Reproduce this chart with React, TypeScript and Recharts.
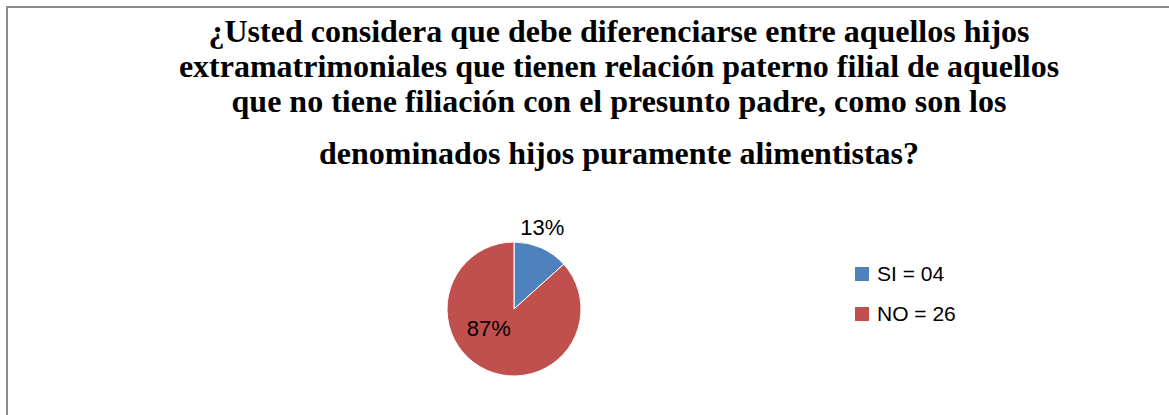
import React from 'react';
import { PieChart, Pie, Cell, Legend } from 'recharts';

const categories = ['SI = 04', 'NO = 26'];
const counts = [4, 26];
const colors = ['#4F81BD', '#C0504D'];
const titleLines = [
  '¿Usted considera que debe diferenciarse entre aquellos hijos',
  'extramatrimoniales que tienen relación paterno filial de aquellos',
  'que no tiene filiación con el presunto padre, como son los',
  'denominados hijos puramente alimentistas?',
];

const data = categories.map((name, i) => ({ name, value: counts[i] }));
const RAD = Math.PI / 180;

const renderLabel = (props: any) => {
  const { cx, cy, midAngle, outerRadius, percent } = props;
  const text = `${Math.round(percent * 100)}%`;
  let x: number;
  let y: number;
  if (percent < 0.5) {
    const r = outerRadius + 22;
    x = cx + r * Math.cos(-midAngle * RAD) - 8;
    y = cy + r * Math.sin(-midAngle * RAD);
  } else {
    const r = outerRadius * 0.45;
    x = cx + r * Math.cos(-midAngle * RAD) - 13;
    y = cy + r * Math.sin(-midAngle * RAD) - 8;
  }
  return (
    <text x={x} y={y} textAnchor="middle" dominantBaseline="central"
      fontFamily="'Liberation Sans', Arial, sans-serif" fontSize={22} fill="#000">
      {text}
    </text>
  );
};

const renderLegend = () => (
  <div style={{ fontFamily: "'Liberation Sans', Arial, sans-serif", fontSize: 21, color: '#000' }}>
    {data.map((d, i) => (
      <div key={d.name} style={{ display: 'flex', alignItems: 'center', height: 40 }}>
        <span style={{ width: 14, height: 14, background: colors[i], marginRight: 8, display: 'inline-block' }} />
        <span>{d.name}</span>
      </div>
    ))}
  </div>
);

export default function App() {
  return (
    <div style={{ position: 'relative', width: 1169, height: 415, background: '#fff', overflow: 'hidden' }}>
      <style>{`body{margin:0}`}</style>
      <div style={{ position: 'absolute', left: 6, top: 6, width: 1200, height: 500, borderTop: '2px solid #8c8c8c', borderLeft: '2px solid #8c8c8c' }} />
      <div style={{ position: 'absolute', left: 0, top: 0, width: 1238, textAlign: 'center', fontFamily: "'Liberation Serif', 'Times New Roman', serif", fontWeight: 'bold', fontSize: 32, color: '#000' }}>
        {titleLines.map((line, i) => (
          <div key={i} style={{ position: 'absolute', left: 0, right: 0, top: [13, 48, 83, 135][i], lineHeight: '37px', whiteSpace: 'nowrap' }}>{line}</div>
        ))}
      </div>
      <div style={{ position: 'absolute', left: 0, top: 0 }}>
        <PieChart width={1169} height={415} margin={{ top: 0, right: 0, bottom: 0, left: 0 }}>
          <Pie
            data={data}
            dataKey="value"
            nameKey="name"
            cx={514}
            cy={309}
            outerRadius={67}
            startAngle={90}
            endAngle={-270}
            stroke="#fff"
            strokeWidth={1}
            label={renderLabel}
            labelLine={false}
            isAnimationActive={false}
          >
            {data.map((d, i) => (
              <Cell key={d.name} fill={colors[i]} />
            ))}
          </Pie>
          <Legend content={renderLegend} layout="vertical" align="right" verticalAlign="top"
            wrapperStyle={{ left: 855, top: 254, width: 150 }} />
        </PieChart>
      </div>
    </div>
  );
}
